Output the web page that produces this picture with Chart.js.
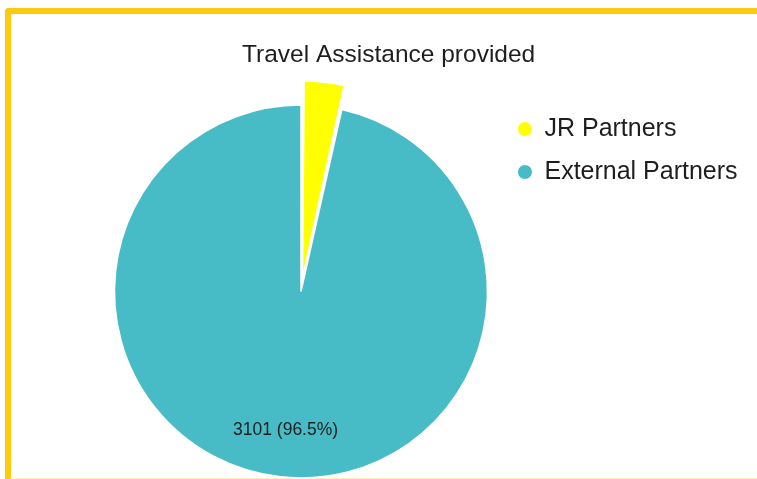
<!DOCTYPE html>
<html>
<head>
<meta charset="utf-8">
<title>Travel Assistance provided</title>
<script src="https://cdn.jsdelivr.net/npm/chart.js@4.4.1/dist/chart.umd.min.js"></script>
<style>
    html, body {
        margin: 0;
        padding: 0;
        background: #fff;
        overflow: hidden;
    }
    body {
        position: relative;
        width: 757px;
        height: 479px;
    }
    .frame {
        position: absolute;
        left: 5px;
        top: 8px;
        width: 800px;
        height: 464px;
        border: 6px solid #ffc90e;
        border-bottom-color: #fff0b8;
        border-radius: 4px;
    }
    #pieChart {
        position: absolute;
        left: 0;
        top: 0;
    }
</style>
</head>
<body>
<div class="frame"></div>
<canvas id="pieChart" width="757" height="490"></canvas>

<script>
    const partnerLabels = ["JR Partners", "External Partners"];
    const assistCounts = [113, 3101];

    const sliceColors = ["#ffff00", "#47bcc6"];
    const fontFamily = "Arial, 'Liberation Sans', sans-serif";

    // value + percentage written inside the bigger slices
    const sliceLabels = {
        id: "sliceLabels",
        afterDatasetsDraw(chart) {
            const ctx = chart.ctx;
            const meta = chart.getDatasetMeta(0);
            const values = chart.data.datasets[0].data;
            const total = values.reduce((a, b) => a + b, 0);

            ctx.save();
            ctx.font = "17.5px " + fontFamily;
            ctx.fillStyle = "#1e1e1e";
            ctx.textAlign = "center";
            ctx.textBaseline = "middle";

            meta.data.forEach((arc, i) => {
                const share = values[i] / total;
                if (share < 0.05) return; // too thin for a label
                const { x, y, startAngle, endAngle, outerRadius } =
                    arc.getProps(["x", "y", "startAngle", "endAngle", "outerRadius"], true);
                const mid = (startAngle + endAngle) / 2;
                const r = outerRadius * 0.75;
                const text = `${values[i]} (${(share * 100).toFixed(1)}%)`;
                ctx.fillText(text, x + Math.cos(mid) * r, y + Math.sin(mid) * r);
            });
            ctx.restore();
        }
    };

    // blank strip on the left so the pie sits left of the title's centre line.
    // display:false keeps it out of the side-box width split, so the legend keeps its full width
    const leftGutter = {
        id: "leftGutter",
        beforeInit(chart) {
            Chart.layouts.addBox(chart, {
                position: "left",
                weight: 0,
                fullSize: false,
                options: { display: false },
                isHorizontal() { return false; },
                update(maxWidth, maxHeight) {
                    this.width = 72.4;
                    this.height = maxHeight;
                },
                draw() {}
            });
        }
    };

    new Chart(document.getElementById("pieChart"), {
        type: "pie",
        data: {
            labels: partnerLabels,
            datasets: [{
                data: assistCounts,
                backgroundColor: sliceColors,
                borderColor: "#ffffff",
                borderWidth: 1.5,
                offset: [54, 0]
            }]
        },
        options: {
            responsive: false,
            animation: false,
            radius: 186.5,
            layout: {
                padding: { left: 29.6, right: 9.4, top: 40.3, bottom: 5.5 }
            },
            plugins: {
                title: {
                    display: true,
                    text: "Travel Assistance provided",
                    color: "#1e1e1e",
                    font: { size: 24.5, family: fontFamily, weight: "normal" },
                    padding: { top: 0, bottom: 28.8 }
                },
                legend: {
                    position: "right",
                    align: "start",
                    fullSize: false,
                    labels: {
                        usePointStyle: true,
                        pointStyle: "circle",
                        boxWidth: 14,
                        boxHeight: 11,
                        padding: 18,
                        color: "#1e1e1e",
                        font: { size: 25, family: fontFamily }
                    }
                },
                tooltip: { enabled: false }
            }
        },
        plugins: [leftGutter, sliceLabels]
    });
</script>
</body>
</html>
